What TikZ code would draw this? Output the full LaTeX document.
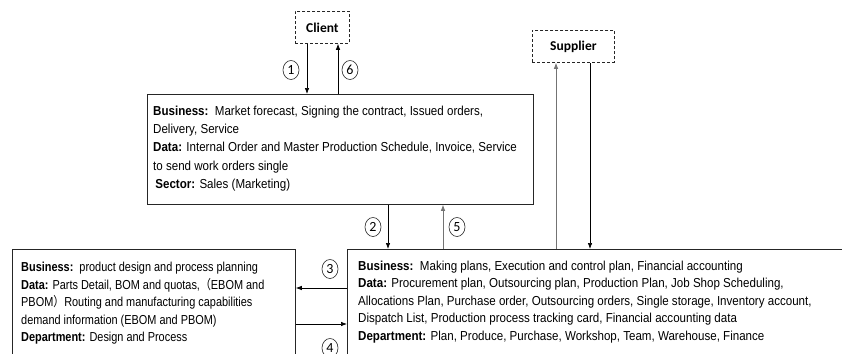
\documentclass[tikz,border=0pt]{standalone}
\usepackage{fontspec}
\setmainfont[FakeStretch=0.89]{Liberation Sans}
\newfontfamily\narrowfont[FakeStretch=0.84]{Liberation Sans}
\newfontfamily\labelfont{Carlito}
\newfontfamily\cjk[FakeStretch=0.84]{Noto Sans CJK SC}
\usetikzlibrary{arrows.meta,shapes.geometric}
\newcommand{\lp}{{\cjk （}}
\newcommand{\rp}{{\cjk ）}}
\begin{document}
\begin{tikzpicture}[x=1pt,y=-1pt,
  box/.style={draw=black!85, line width=0.8pt, inner sep=0pt, anchor=north west},
  dbox/.style={draw=black!85, line width=0.8pt, dashed, dash pattern=on 3pt off 2pt, inner sep=0pt, anchor=north west, font=\labelfont\fontsize{13.5}{15}\selectfont\bfseries},
  body/.style={anchor=north west, inner sep=0pt, align=left, font=\fontsize{13}{18.3}\selectfont},
  num/.style={draw=black!85, ellipse, line width=0.6pt, minimum width=16pt, minimum height=19pt, inner sep=0pt, font=\labelfont\fontsize{14}{15}\selectfont},
  flow/.style={line width=0.7pt, -{Latex[length=6pt,width=4.5pt]}},
  gflow/.style={draw=black!55, line width=0.8pt, -{Latex[length=6pt,width=4.5pt]}}
]
\clip (0,0) rectangle (842,353);
\fill[white] (0,0) rectangle (842,353);

% boxes
\node[dbox, minimum width=54pt, minimum height=32pt] (client) at (295,11) {Client};
\node[dbox, minimum width=82pt, minimum height=32pt] (supplier) at (532,30) {Supplier};
\node[box, minimum width=386pt, minimum height=110pt] (sales) at (147,94) {};
\node[box, minimum width=283pt, minimum height=140pt] (design) at (12,249) {};
\node[box, minimum width=520pt, minimum height=140pt] (plan) at (347,249) {};

% box contents
\node[body] (salestxt) at (153,105.5) {\textbf{Business:}\ \ Market forecast, Signing the contract, Issued orders,\\
Delivery,\ Service\\
\textbf{Data:} Internal\ Order and Master Production Schedule, Invoice,\ Service\\
to send work orders single\\
\,\textbf{Sector:} Sales (Marketing)};
\node[body, font=\narrowfont\fontsize{13}{17.5}\selectfont] (designtxt) at (21,262) {\textbf{Business:}\ \ product design and process planning\\
\textbf{Data:} Parts Detail, BOM and quotas,\lp EBOM and\\
PBOM\rp Routing and manufacturing capabilities\\
demand information\ (EBOM and PBOM)\\
\textbf{Department:} Design and Process};
\node[body, font=\fontsize{13}{17.6}\selectfont] (plantxt) at (358,260.5) {\textbf{Business:}\ \ Making plans, Execution and control plan, Financial accounting\\
\textbf{Data:} Procurement\ plan, Outsourcing plan, Production Plan, Job Shop Scheduling,\\
Allocations Plan, Purchase order,\ Outsourcing orders, Single storage, Inventory\ account,\\
Dispatch List, Production process tracking card, Financial accounting data\\
\textbf{Department:} Plan, Produce,\ Purchase, Workshop, Team, Warehouse,\ Finance};

% connector positions
\coordinate (x1) at (307,0);
\coordinate (x6) at (338,0);
\coordinate (x2) at (388,0);
\coordinate (x5) at (443,0);
\coordinate (xs) at (556,0);
\coordinate (xr) at (590,0);
\coordinate (y3) at (0,288);
\coordinate (y4) at (0,324);

% connectors
\draw[flow] (client.south -| x1) -- (sales.north -| x1);
\draw[flow] (sales.north -| x6) -- (client.south -| x6);
\draw[flow] (sales.south -| x2) -- (plan.north -| x2);
\draw[gflow] (plan.north -| x5) -- (sales.south -| x5);
\draw[gflow] (plan.north -| xs) -- (supplier.south -| xs);
\draw[flow] (supplier.south -| xr) -- (plan.north -| xr);
\draw[flow] (plan.west |- y3) -- (design.east |- y3);
\draw[flow] (design.east |- y4) -- (plan.west |- y4);

% step numbers
\node[num] (n1) at (291,70) {1};
\node[num] (n6) at (350,70) {6};
\node[num] (n2) at (373,227) {2};
\node[num] (n5) at (457,227) {5};
\node[num] (n3) at (330,269) {3};
\node[num] (n4) at (330,348) {4};
\end{tikzpicture}
\end{document}
